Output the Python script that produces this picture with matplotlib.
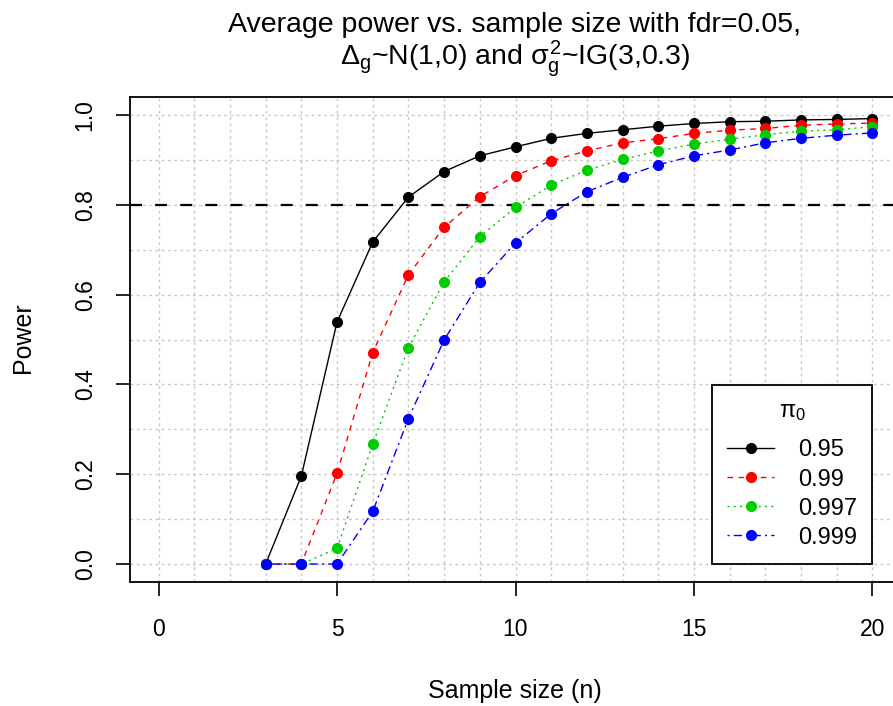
import matplotlib
matplotlib.use("Agg")
import matplotlib.pyplot as plt
import numpy as np

plt.rcParams['font.family'] = ['Liberation Sans', 'DejaVu Sans']
plt.rcParams['mathtext.fontset'] = 'custom'
plt.rcParams['mathtext.rm'] = 'Liberation Sans'
plt.rcParams['mathtext.it'] = 'Liberation Sans'
plt.rcParams['mathtext.sf'] = 'Liberation Sans'

n = list(range(3, 21))
power_095 = [0.0, 0.196, 0.539, 0.717, 0.817, 0.874, 0.909, 0.929, 0.948, 0.959,
             0.967, 0.975, 0.981, 0.985, 0.986, 0.989, 0.990, 0.992]
power_099 = [0.0, 0.0, 0.202, 0.471, 0.644, 0.750, 0.818, 0.865, 0.898, 0.920,
             0.938, 0.947, 0.959, 0.966, 0.970, 0.977, 0.980, 0.982]
power_0997 = [0.0, 0.0, 0.035, 0.267, 0.482, 0.628, 0.729, 0.794, 0.844, 0.877,
              0.901, 0.920, 0.935, 0.946, 0.956, 0.964, 0.967, 0.974]
power_0999 = [0.0, 0.0, 0.0, 0.117, 0.324, 0.499, 0.627, 0.715, 0.780, 0.829,
              0.861, 0.889, 0.909, 0.922, 0.938, 0.948, 0.955, 0.960]
labels = ['0.95', '0.99', '0.997', '0.999']
colors = ['black', 'red', '#00CD00', 'blue']
styles = ['-', (0, (4, 4)), (0, (1.5, 3)), (0, (1.5, 3, 6, 3))]
series = [power_095, power_099, power_0997, power_0999]
threshold = 0.8

W, H = 893, 706
fig = plt.figure(figsize=(W / 100, H / 100), dpi=100)
ax = fig.add_axes([130 / W, (H - 582) / H, (901 - 130) / W, (582 - 97) / H])

for xv in range(-1, 22):
    ax.axvline(xv, color='#C8C8C8', lw=1, ls=(0, (2, 2.5)), zorder=0)
for yv in np.arange(0, 1.05, 0.1):
    ax.axhline(yv, color='#C8C8C8', lw=1, ls=(0, (2, 2.5)), zorder=0)

ax.axhline(threshold, color='black', lw=1.6, ls=(0, (5.4, 5.9)), zorder=1)

handles = []
for vals, c, ls, lab in zip(series, colors, styles, labels):
    h, = ax.plot(n, vals, color=c, ls=ls, lw=1, marker='o', markersize=7,
                 markerfacecolor=c, markeredgecolor=c, label=lab, zorder=3)
    handles.append(h)

ax.set_xlim(-0.8, 20.8)
ax.set_ylim(-0.04, 1.04)
ax.set_xticks([0, 5, 10, 15, 20])
ax.set_yticks([0.0, 0.2, 0.4, 0.6, 0.8, 1.0])
ax.set_yticklabels(['0.0', '0.2', '0.4', '0.6', '0.8', '1.0'], rotation=90, va='center')
ax.tick_params(labelsize=16.5, length=10, width=1.2)
ax.tick_params(axis='x', pad=16)
ax.tick_params(axis='y', pad=14)
for s in ax.spines.values():
    s.set_linewidth(1.3)

fig.text(515 / W, 1 - 691 / H, 'Sample size (n)', fontsize=18, ha='center', va='center')
fig.text(23 / W, 1 - 338 / H, 'Power', fontsize=18, ha='center', va='center', rotation=90)
fig.text(515 / W, 1 - 32 / H, 'Average power vs. sample size with fdr=0.05,',
         fontsize=20.5, ha='center', va='baseline')
fig.text(515 / W, 1 - 65 / H,
         r'$\Delta_\mathrm{g}$~N(1,0) and $\sigma_\mathrm{g}^2$~IG(3,0.3)',
         fontsize=20.5, ha='center', va='baseline')

leg = ax.legend(handles=handles, title=r'$\pi_0$', loc='lower right',
                bbox_to_anchor=(20, 0.0), bbox_transform=ax.transData,
                fontsize=17, title_fontsize=17, frameon=True, fancybox=False,
                edgecolor='black', handlelength=2.0, borderaxespad=0.0,
                borderpad=0.65, labelspacing=0.3, handletextpad=1.0,
                framealpha=1)
leg._legend_box.sep = 12
leg.get_frame().set_linewidth(1.3)

fig.savefig('out.png', dpi=100)
